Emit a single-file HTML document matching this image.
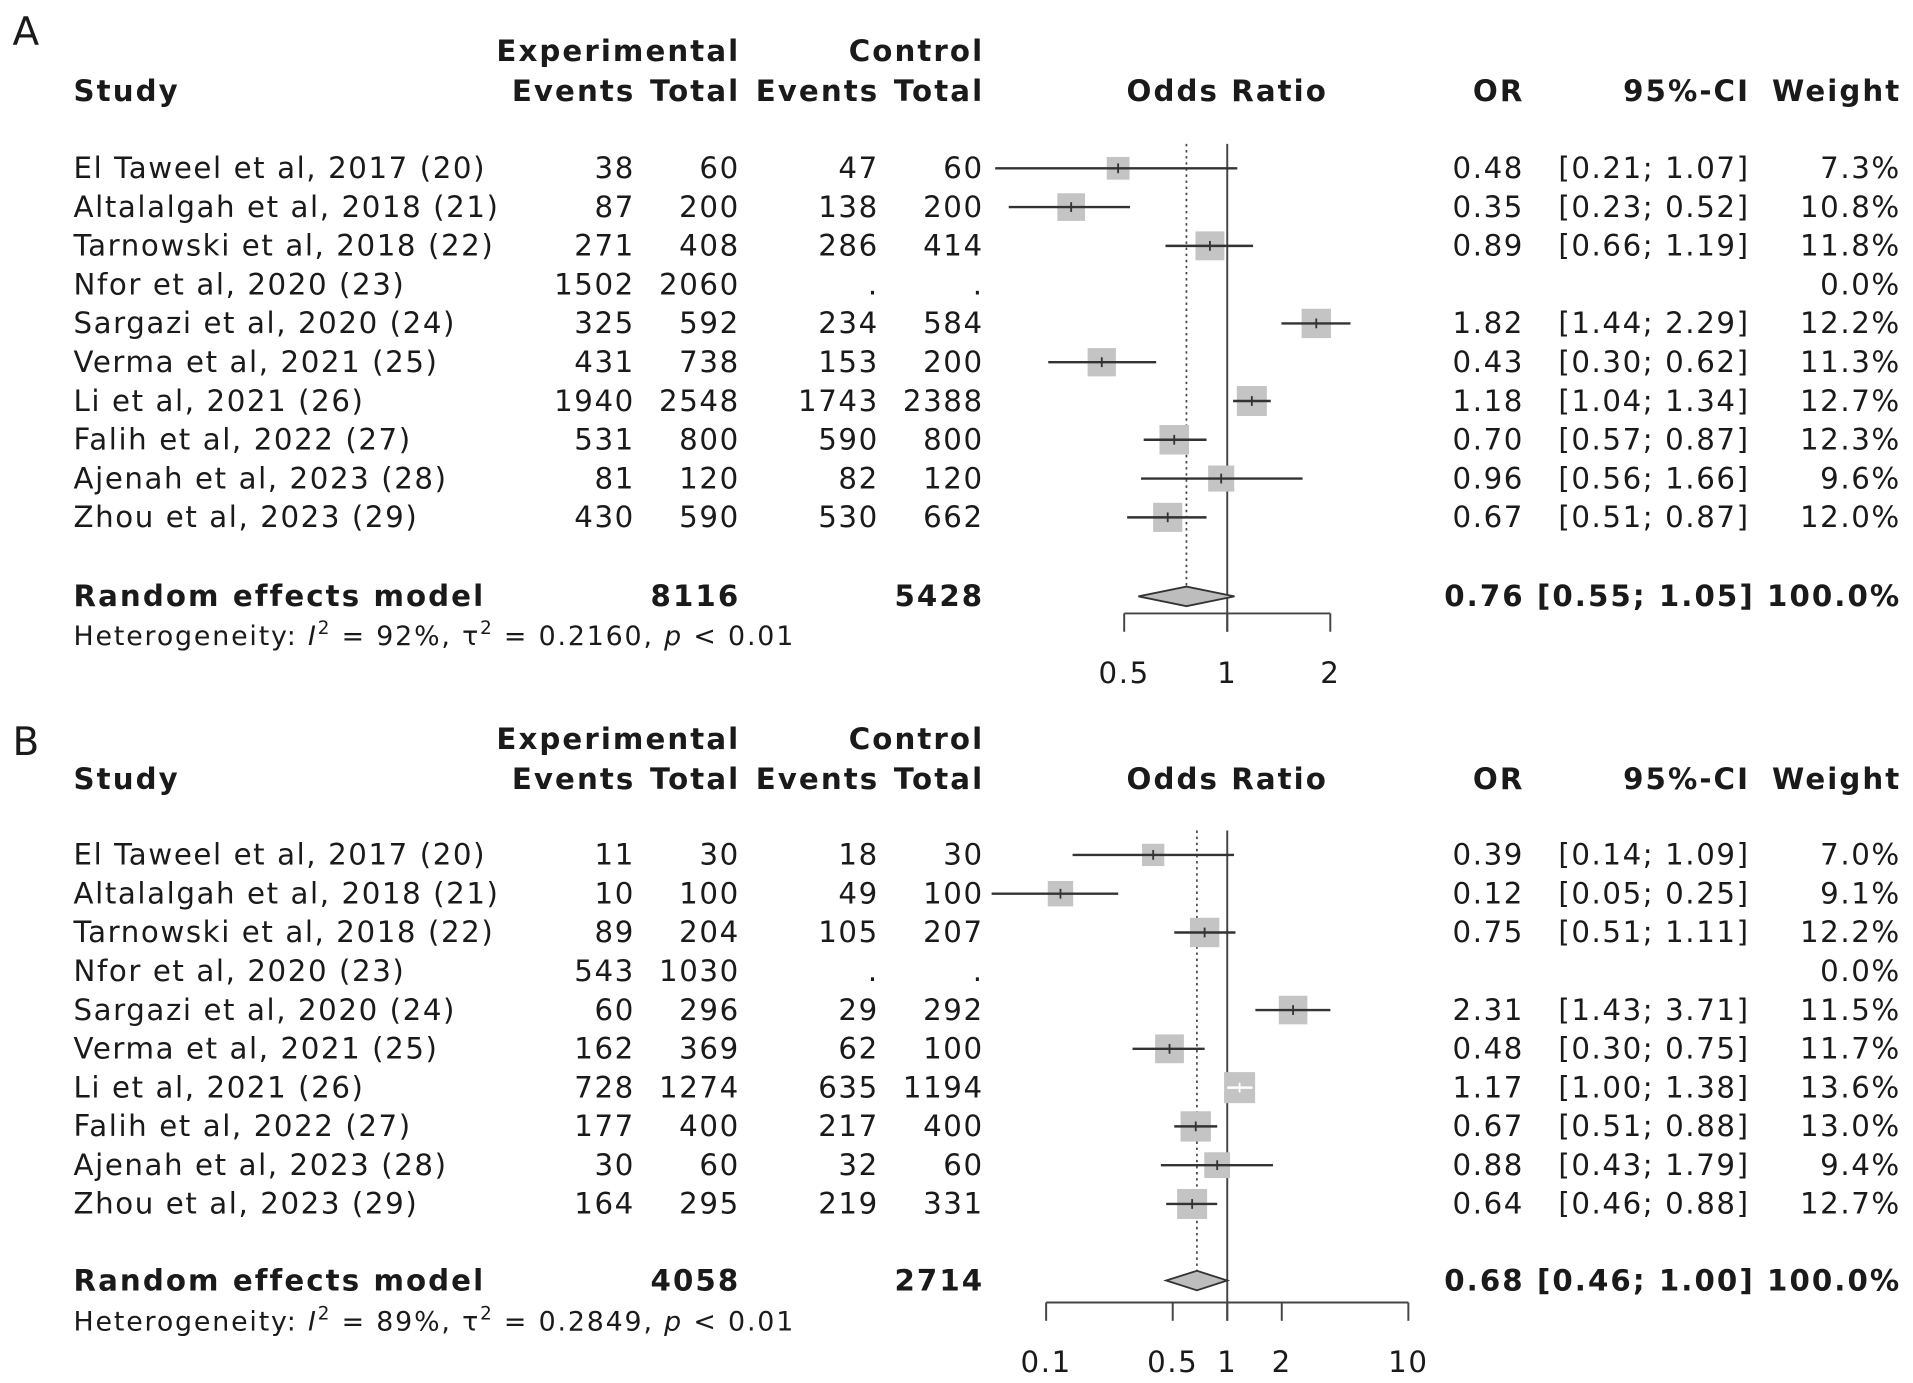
<!DOCTYPE html>
<html><head><meta charset="utf-8"><style>
html,body{margin:0;padding:0;background:#fff;}
svg{display:block;}
text{font-family:"DejaVu Sans","Liberation Sans",sans-serif;fill:#1a1a1a;}
</style></head><body>
<svg id="chart" width="1913" height="1383" viewBox="0 0 1568 1134" xmlns="http://www.w3.org/2000/svg"></svg>
<script>
// ---- shared study labels ----
const studies = ["El Taweel et al, 2017 (20)","Altalalgah et al, 2018 (21)","Tarnowski et al, 2018 (22)","Nfor et al, 2020 (23)","Sargazi et al, 2020 (24)","Verma et al, 2021 (25)","Li et al, 2021 (26)","Falih et al, 2022 (27)","Ajenah et al, 2023 (28)","Zhou et al, 2023 (29)"];
// ---- panel A data ----
const evExpA = ["38","87","271","1502","325","431","1940","531","81","430"];
const totExpA = ["60","200","408","2060","592","738","2548","800","120","590"];
const evCtlA = ["47","138","286",".","234","153","1743","590","82","530"];
const totCtlA = ["60","200","414",".","584","200","2388","800","120","662"];
const orA = [0.48,0.35,0.89,null,1.82,0.43,1.18,0.70,0.96,0.67];
const loA = [0.21,0.23,0.66,null,1.44,0.30,1.04,0.57,0.56,0.51];
const hiA = [1.07,0.52,1.19,null,2.29,0.62,1.34,0.87,1.66,0.87];
const wA = [7.3,10.8,11.8,0.0,12.2,11.3,12.7,12.3,9.6,12.0];
const pooledA = [0.76,0.55,1.05];
const totalsA = ["8116","5428"];
const hetA = ["92%","0.2160","0.01"];
const ticksA = [0.5,1,2];
// ---- panel B data ----
const evExpB = ["11","10","89","543","60","162","728","177","30","164"];
const totExpB = ["30","100","204","1030","296","369","1274","400","60","295"];
const evCtlB = ["18","49","105",".","29","62","635","217","32","219"];
const totCtlB = ["30","100","207",".","292","100","1194","400","60","331"];
const orB = [0.39,0.12,0.75,null,2.31,0.48,1.17,0.67,0.88,0.64];
const loB = [0.14,0.05,0.51,null,1.43,0.30,1.00,0.51,0.43,0.46];
const hiB = [1.09,0.25,1.11,null,3.71,0.75,1.38,0.88,1.79,0.88];
const wB = [7.0,9.1,12.2,0.0,11.5,11.7,13.6,13.0,9.4,12.7];
const pooledB = [0.68,0.46,1.00];
const totalsB = ["4058","2714"];
const hetB = ["89%","0.2849","0.01"];
const ticksB = [0.1,0.5,1,2,10];

const NS="http://www.w3.org/2000/svg";
const svg=document.getElementById('chart');
function mk(tag,attrs,parent){const e=document.createElementNS(NS,tag);for(const k in attrs)e.setAttribute(k,attrs[k]);(parent||svg).appendChild(e);return e;}
function txt(s,x,y,anchor,bold,size,parent){
  const ls=bold?1.7:1.3;
  const xx=(anchor==='end')?x+ls:x;
  const t=mk('text',{x:xx,y:y,'text-anchor':anchor||'start','font-size':size||24,'font-weight':bold?'bold':'normal','letter-spacing':ls},parent);t.textContent=s;return t;}
const f2=v=>v.toFixed(2);

function panel(cfg){
  const g=mk('g',{});
  
  
  const B=8;
  let t=mk('text',{x:10,y:cfg.letterY,'font-size':32},g);t.textContent=cfg.letter;
  
  
  const h1=cfg.top+42, h2=cfg.top+75;
  t=txt('Experimental',605,h1+B,'end',true,24,g);
  
  
  t=txt('Control',805,h1+B,'end',true,24,g);
  
  
  const heads=[['Study',60,'start'],['Events',519,'end'],['Total',605,'end'],['Events',719,'end'],['Total',805,'end'],['Odds Ratio',1006,'middle'],['OR',1248,'end'],['95%-CI',1433,'end'],['Weight',1557,'end']];
  heads.forEach(h=>{const e=txt(h[0],h[1],h2+B,h[2],true,24,g);
    
    });
  const rowY=i=>cfg.row0+i*31.8;
  const X=v=>1006+Math.log10(v)*cfg.dec;
  const yEnd=cfg.randY;
  let l=mk('line',{x1:X(1),x2:X(1),y1:cfg.row0-20,y2:cfg.axisY+15,stroke:'#444','stroke-width':1.6},g);
  
  
  l=mk('line',{x1:X(cfg.pooled[0]),x2:X(cfg.pooled[0]),y1:cfg.row0-20,y2:yEnd,stroke:'#444','stroke-width':1.4,'stroke-dasharray':'2,3'},g);
  
  
  studies.forEach((s,i)=>{
    const y=rowY(i);
    const r=mk('g',{},g);
    
    
    txt(s,60,y+B,'start',false,24,r);
    txt(cfg.evE[i],519,y+B,'end',false,24,r);
    txt(cfg.totE[i],605,y+B,'end',false,24,r);
    txt(cfg.evC[i],719,y+B,'end',false,24,r);
    txt(cfg.totC[i],805,y+B,'end',false,24,r);
    if(cfg.or[i]!==null){
      txt(f2(cfg.or[i]),1248,y+B,'end',false,24,r);
      txt('['+f2(cfg.lo[i])+'; '+f2(cfg.hi[i])+']',1433,y+B,'end',false,24,r);
      const side=6.9*Math.sqrt(cfg.w[i]);
      const cx=X(cfg.or[i]);
      const bx=mk('rect',{x:cx-side/2,y:y-side/2,width:side,height:side,fill:'#c4c4c4'},r);
      
      
      const inside=(X(cfg.hi[i])-X(cfg.lo[i]))<side;
      const col=inside?'#ffffff':'#333';
      const ci=mk('line',{x1:X(cfg.lo[i]),x2:X(cfg.hi[i]),y1:y,y2:y,stroke:col,'stroke-width':2},r);
      
      
      mk('line',{x1:cx,x2:cx,y1:y-4,y2:y+4,stroke:col,'stroke-width':1.5},r);
    }
    txt(cfg.w[i].toFixed(1)+'%',1557,y+B,'end',false,24,r);
  });
  const ry=cfg.randY;
  const rg=mk('g',{},g);
  
  
  txt('Random effects model',60,ry+B,'start',true,24,rg);
  txt(cfg.totals[0],605,ry+B,'end',true,24,rg);
  txt(cfg.totals[1],805,ry+B,'end',true,24,rg);
  txt(f2(cfg.pooled[0])+' ['+f2(cfg.pooled[1])+'; '+f2(cfg.pooled[2])+'] 100.0%',1557,ry+B,'end',true,24,rg);
  const p=cfg.pooled;
  const d=mk('polygon',{points:`${X(p[1])},${ry} ${X(p[0])},${ry-8} ${X(p[2])},${ry} ${X(p[0])},${ry+8}`,fill:'#bdbdbd',stroke:'#333','stroke-width':1.5},rg);
  
  
  const ht=mk('text',{x:60,y:cfg.hetY+B,'font-size':22,'letter-spacing':1.5},g);
  
  
  ht.innerHTML='Heterogeneity: <tspan font-style="italic">I</tspan><tspan dy="-9" font-size="15">2</tspan><tspan dy="9"> = '+cfg.het[0]+', τ</tspan><tspan dy="-9" font-size="15">2</tspan><tspan dy="9"> = '+cfg.het[1]+', </tspan><tspan font-style="italic">p</tspan> &lt; '+cfg.het[2];
  const ax=mk('g',{},g);
  
  
  const tk=cfg.ticks;
  mk('line',{x1:X(tk[0]),x2:X(tk[tk.length-1]),y1:cfg.axisY,y2:cfg.axisY,stroke:'#444','stroke-width':1.6},ax);
  tk.forEach(v=>{
    mk('line',{x1:X(v),x2:X(v),y1:cfg.axisY,y2:cfg.axisY+15,stroke:'#444','stroke-width':1.6},ax);
    const e=mk('text',{x:X(v),y:cfg.axisY+57,'text-anchor':'middle','font-size':24,'letter-spacing':1.3},ax);
    e.textContent=String(v);
    
    
  });
}
panel({id:'a',letter:'A',letterY:37,top:0,row0:138,randY:489,hetY:521,axisY:503,dec:280.7,evE:evExpA,totE:totExpA,evC:evCtlA,totC:totCtlA,or:orA,lo:loA,hi:hiA,w:wA,pooled:pooledA,totals:totalsA,het:hetA,ticks:ticksA});
panel({id:'b',letter:'B',letterY:619,top:564,row0:701,randY:1050,hetY:1083,axisY:1068,dec:148.5,evE:evExpB,totE:totExpB,evC:evCtlB,totC:totCtlB,or:orB,lo:loB,hi:hiB,w:wB,pooled:pooledB,totals:totalsB,het:hetB,ticks:ticksB});
</script>
</body></html>
